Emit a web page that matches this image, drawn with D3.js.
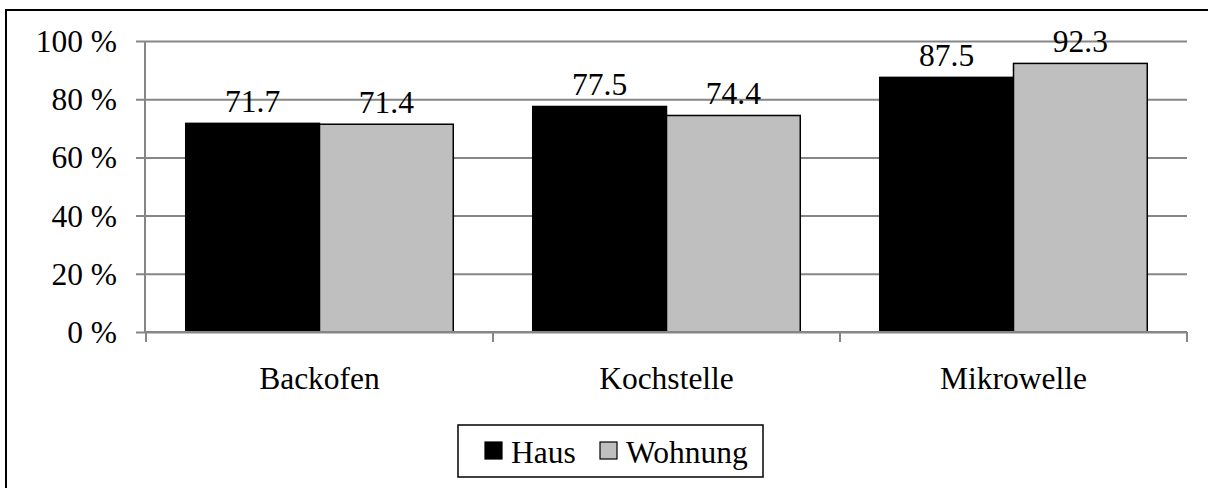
<!DOCTYPE html>
<html>
<head>
<meta charset="utf-8">
<script src="https://cdn.jsdelivr.net/npm/d3@7"></script>
<style>
html,body{margin:0;padding:0;background:#fff;}
svg{display:block;}
text{font-family:"Liberation Serif","Times New Roman",serif;fill:#000;}
</style>
</head>
<body>
<svg id="chart" width="1208" height="488"></svg>
<script>
const categories = ["Backofen", "Kochstelle", "Mikrowelle"];
const seriesNames = ["Haus", "Wohnung"];
const haus = [71.7, 77.5, 87.5];
const wohnung = [71.4, 74.4, 92.3];
const yTicks = [0, 20, 40, 60, 80, 100];
const seriesColors = ["#000000", "#bfbfbf"];

(function () {
const svg = d3.select("#chart");
const pLeft = 146, pRight = 1187, pTop = 41, pBottom = 332;
const fs = 31.5;

// outer frame
svg.append("rect").attr("x", 6).attr("y", 10).attr("width", 1210).attr("height", 490)
  .attr("fill", "none").attr("stroke", "#000").attr("stroke-width", 2);

const x = d3.scaleBand().domain(categories).range([pLeft, pRight])
  .paddingInner(0.229).paddingOuter(0.1145);
const xs = d3.scaleBand().domain(seriesNames).range([0, x.bandwidth()]);
const y = d3.scaleLinear().domain([0, 100]).range([pBottom, pTop]);

// gridlines + y ticks
const yAxis = d3.axisLeft(y).tickValues(yTicks).tickSize(-(pRight - pLeft + 10))
  .tickFormat(d => d + " %").tickPadding(18);
const gy = svg.append("g").attr("transform", `translate(${pLeft - 10},0)`).call(yAxis);
gy.select(".domain").remove();
gy.selectAll(".tick line").attr("stroke", "#868686").attr("stroke-width", 2);
gy.selectAll(".tick text").attr("font-size", fs).attr("dy", "0.33em")
  .attr("x", -(pLeft - 10 - 117)).style("font-family", "'Liberation Serif',serif");

// y axis line
svg.append("line").attr("x1", pLeft - 1).attr("x2", pLeft - 1).attr("y1", pTop).attr("y2", pBottom)
  .attr("stroke", "#868686").attr("stroke-width", 2);

// bars
const data = categories.map((c, i) => ({ c, vals: [haus[i], wohnung[i]] }));
const groups = svg.append("g").selectAll("g").data(data).join("g")
  .attr("transform", d => `translate(${x(d.c)},0)`);
groups.selectAll("rect").data(d => d.vals.map((v, j) => ({ v, s: seriesNames[j], j })))
  .join("rect")
  .attr("x", d => xs(d.s)).attr("width", xs.bandwidth())
  .attr("y", d => y(d.v)).attr("height", d => y(0) - y(d.v))
  .attr("fill", d => seriesColors[d.j]).attr("stroke", "#000").attr("stroke-width", 1.5);
groups.selectAll("text").data(d => d.vals.map((v, j) => ({ v, s: seriesNames[j] })))
  .join("text")
  .attr("x", d => xs(d.s) + xs.bandwidth() / 2).attr("y", d => y(d.v) - 11)
  .attr("text-anchor", "middle").attr("font-size", fs)
  .text(d => d.v.toFixed(1));

// x axis
svg.append("line").attr("x1", pLeft - 1).attr("x2", pRight).attr("y1", pBottom).attr("y2", pBottom)
  .attr("stroke", "#868686").attr("stroke-width", 2);
const step = x.step();
d3.range(categories.length + 1).forEach(i => {
  const xx = pLeft + i * step;
  svg.append("line").attr("x1", xx).attr("x2", xx).attr("y1", pBottom).attr("y2", pBottom + 10)
    .attr("stroke", "#868686").attr("stroke-width", 2);
});
svg.append("g").selectAll("text").data(categories).join("text")
  .attr("x", d => x(d) + x.bandwidth() / 2).attr("y", 389)
  .attr("text-anchor", "middle").attr("font-size", fs).text(d => d);

// legend
const lg = svg.append("g");
lg.append("rect").attr("x", 458).attr("y", 425).attr("width", 305).attr("height", 52)
  .attr("fill", "#fff").attr("stroke", "#000").attr("stroke-width", 1.5);
const legX = [485, 600];
seriesNames.forEach((s, i) => {
  lg.append("rect").attr("x", legX[i]).attr("y", 442).attr("width", 17).attr("height", 17)
    .attr("fill", seriesColors[i]).attr("stroke", "#000").attr("stroke-width", 1.2);
  lg.append("text").attr("x", legX[i] + 26).attr("y", 463).attr("font-size", fs).text(s);
});
})();
</script>
</body>
</html>
